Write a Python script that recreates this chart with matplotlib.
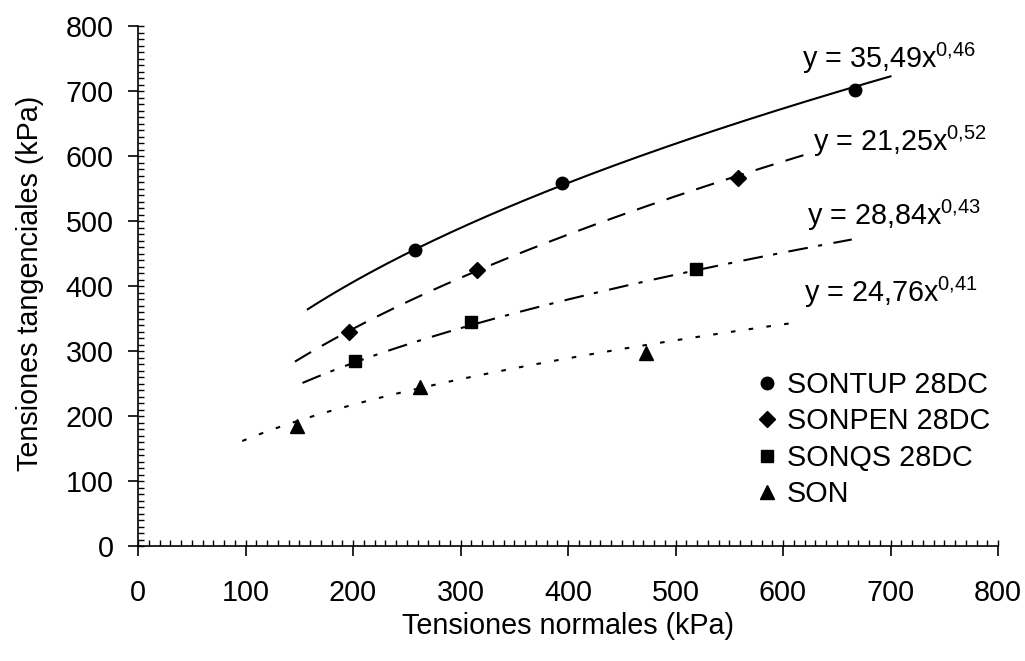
import numpy as np
import matplotlib
matplotlib.use("Agg")
import matplotlib.pyplot as plt
from matplotlib.ticker import MultipleLocator

plt.rcParams['font.family'] = ['Liberation Sans', 'DejaVu Sans']
plt.rcParams['mathtext.fontset'] = 'custom'
plt.rcParams['mathtext.rm'] = 'Liberation Sans'
plt.rcParams['mathtext.it'] = 'Liberation Sans'
plt.rcParams['mathtext.default'] = 'regular'

# series labels and markers
SERIES = ["SONTUP 28DC", "SONPEN 28DC", "SONQS 28DC", "SON"]
MARKERS = ["o", "D", "s", "^"]

# measured points (kPa)
X_SONTUP = [258, 394, 667]
Y_SONTUP = [456, 558, 702]
X_SONPEN = [196, 315, 558]
Y_SONPEN = [329, 425, 566]
X_SONQS = [202, 310, 519]
Y_SONQS = [284, 345, 426]
X_SON = [148, 262, 473]
Y_SON = [184, 245, 297]

# power trendlines y = a*x^b as printed on the chart
TREND_A = [35.49, 21.25, 28.84, 24.76]
TREND_B = [0.46, 0.52, 0.43, 0.41]
TREND_X0 = [158, 146, 153, 97]
TREND_X1 = [700, 627, 664, 612]
TREND_TEXT = ["35,49", "21,25", "28,84", "24,76"]
TREND_EXP = ["0{,}46", "0{,}52", "0{,}43", "0{,}41"]

xs = [X_SONTUP, X_SONPEN, X_SONQS, X_SON]
ys = [Y_SONTUP, Y_SONPEN, Y_SONQS, Y_SON]

line_styles = ["-", (0, (9, 6)), (0, (9.5, 5, 2, 5.5)), (0, (2.2, 6.4))]
marker_sizes = [9, 8, 9, 10]
label_pos = [(618, 735), (628, 607), (622, 494), (620, 375)]

fs = 20.7

fig = plt.figure(figsize=(10.25, 6.61), dpi=100)
ax = fig.add_axes([138 / 1025, 1 - 546 / 661, 860 / 1025, 520 / 661])

for i in range(4):
    xx = np.linspace(TREND_X0[i], TREND_X1[i], 200)
    ax.plot(xx, TREND_A[i] * xx ** TREND_B[i], color="black", lw=1.5,
            linestyle=line_styles[i], zorder=2)
    ax.plot(xs[i], ys[i], linestyle="none", marker=MARKERS[i],
            markersize=marker_sizes[i], color="black", label=SERIES[i], zorder=3)
    lx, ly = label_pos[i]
    ax.text(lx, ly, "y = %sx$^{%s}$" % (TREND_TEXT[i], TREND_EXP[i]),
            fontsize=fs, ha="left", va="baseline", zorder=4)

ax.set_xlim(0, 800)
ax.set_ylim(0, 800)
ax.xaxis.set_major_locator(MultipleLocator(100))
ax.yaxis.set_major_locator(MultipleLocator(100))
ax.xaxis.set_minor_locator(MultipleLocator(10))
ax.yaxis.set_minor_locator(MultipleLocator(10))
ax.xaxis.remove_overlapping_locs = False
ax.yaxis.remove_overlapping_locs = False
ax.spines["top"].set_visible(False)
ax.spines["right"].set_visible(False)
for s in ["left", "bottom"]:
    ax.spines[s].set_linewidth(1.2)
ax.tick_params(which="major", direction="out", length=7.5, width=1.2, labelsize=fs)
ax.tick_params(which="minor", direction="in", length=4.5, width=1.0)
ax.tick_params(axis="x", which="major", pad=16)
ax.tick_params(axis="y", which="major", pad=10)

fig.text(568 / 1025, 1 - 626 / 661, "Tensiones normales (kPa)", fontsize=fs,
         ha="center", va="center")
fig.text(30 / 1025, 1 - 283 / 661, "Tensiones tangenciales (kPa)", fontsize=fs,
         ha="center", va="center", rotation=90)

ax.legend(loc="upper left", bbox_to_anchor=(755 / 1025, 1 - 371 / 661),
          bbox_transform=fig.transFigure, frameon=False, fontsize=fs,
          handlelength=0.8, handletextpad=0.3, borderpad=0, borderaxespad=0,
          labelspacing=0.29, markerscale=1.0)

fig.savefig("out.png", dpi=100)
